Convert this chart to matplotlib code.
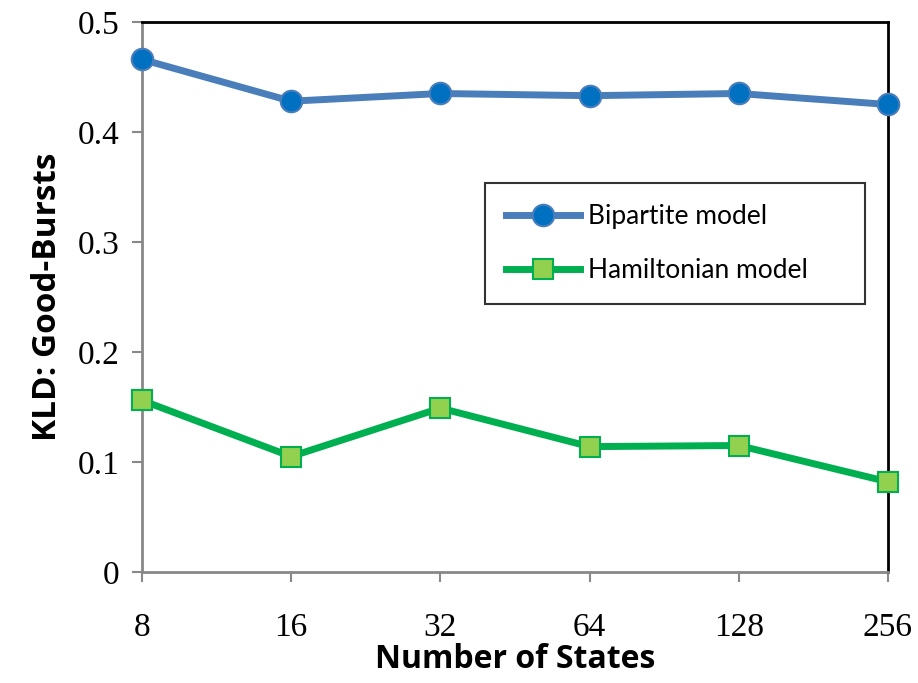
import numpy as np
import matplotlib.pyplot as plt
from matplotlib.ticker import FuncFormatter

states = ["8", "16", "32", "64", "128", "256"]
bipartite = [0.466, 0.428, 0.435, 0.433, 0.435, 0.425]
hamiltonian = [0.156, 0.105, 0.149, 0.114, 0.115, 0.082]

fig = plt.figure(figsize=(9.18, 6.83), dpi=100)
ax = fig.add_axes([0.1547, 0.1625, 0.8126, 0.8053])

x = np.arange(len(states))
ax.plot(x, bipartite, color="#4A7EBB", lw=5, marker="o", ms=15.5,
        mfc="#0070C0", mec="#4A7EBB", mew=1.5, clip_on=False, zorder=3,
        label="Bipartite model")
ax.plot(x, hamiltonian, color="#00B050", lw=5, marker="s", ms=15,
        mfc="#92D050", mec="#00B050", mew=1.5, clip_on=False, zorder=3,
        label="Hamiltonian model")

ax.set_xlim(0, len(states) - 1)
ax.set_ylim(0, 0.5)
ax.set_xticks(x)
ax.set_xticklabels(states)
ax.set_yticks([0, 0.1, 0.2, 0.3, 0.4, 0.5])
ax.yaxis.set_major_formatter(FuncFormatter(lambda v, p: "0" if v == 0 else f"{v:.1f}"))

for lab in ax.get_xticklabels() + ax.get_yticklabels():
    lab.set_fontfamily("Liberation Serif")
    lab.set_fontsize(24)

ax.tick_params(axis="both", direction="out", length=7, width=1.5, color="#888888")
ax.tick_params(axis="x", pad=22)
ax.tick_params(axis="y", pad=9)

ax.spines["left"].set_color("#888888")
ax.spines["bottom"].set_color("#888888")
for s in ["left", "bottom", "top", "right"]:
    ax.spines[s].set_linewidth(2)

ax.set_xlabel("Number of States", fontfamily="Open Sans", fontweight="bold",
              fontsize=23, labelpad=0)
ax.set_ylabel("KLD: Good-Bursts", fontfamily="Open Sans", fontweight="bold",
              fontsize=24, labelpad=10)

leg = ax.legend(loc="upper left", bbox_to_anchor=(0.46, 0.491, 0.509, 0.216),
                mode="expand", prop={"family": "Lato", "size": 19},
                frameon=True, fancybox=False, edgecolor="black",
                borderpad=0.8, labelspacing=1.1, handlelength=2.8,
                handletextpad=0.3, borderaxespad=0)
leg.get_frame().set_linewidth(1.5)
leg.set_zorder(5)

plt.savefig("out.png", dpi=100)
